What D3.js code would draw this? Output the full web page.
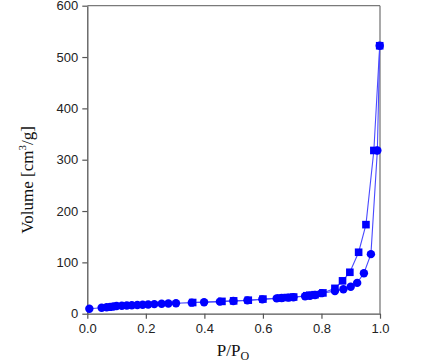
<!DOCTYPE html>
<html><head><meta charset="utf-8">
<script src="https://cdn.jsdelivr.net/npm/d3@7/dist/d3.min.js"></script>
<style>html,body{margin:0;padding:0;background:#fff;}svg{display:block;}</style>
</head><body>
<script>
// Adsorption branch (circles)
const adsX = [0.007,0.049,0.066,0.078,0.089,0.100,0.118,0.135,0.152,0.171,0.189,0.208,0.229,0.254,0.277,0.303,0.357,0.399,0.453,0.499,0.547,0.598,0.647,0.664,0.687,0.704,0.744,0.761,0.778,0.800,0.846,0.875,0.900,0.922,0.945,0.969,0.991,0.999];
const adsY = [9.5,11.7,12.5,13.2,14.0,15.0,15.5,16.0,16.5,17.0,17.5,18.0,18.7,19.3,19.8,20.5,21.5,22.3,23.5,24.8,26.0,28.0,29.8,30.5,31.3,32.0,34.0,35.0,36.5,40.0,44.0,47.5,52.6,60.0,78.7,116.0,318.0,522.0];
// Desorption branch (squares)
const desX = [0.999,0.979,0.952,0.927,0.897,0.872,0.846,0.805,0.778,0.760,0.750,0.705,0.683,0.660,0.600,0.550,0.500,0.460,0.360];
const desY = [522.0,318.0,173.5,119.7,80.7,64.0,49.4,40.5,37.0,36.0,35.0,32.5,31.5,30.5,28.5,26.3,25.0,24.0,21.8];
const xTicks = [0,0.2,0.4,0.6,0.8,1.0];
const yTicks = [0,100,200,300,400,500,600];

const W = 430, H = 364;
const m = {left:87.3, right:380, top:5.7, bottom:313.7};
const svg = d3.select("body").append("svg").attr("width",W).attr("height",H);
const x = d3.scaleLinear().domain([0,1]).range([m.left,m.right]);
const y = d3.scaleLinear().domain([0,600]).range([m.bottom,m.top]);

// frame top/right
svg.append("line").attr("x1",x(0)).attr("x2",x(1)).attr("y1",y(600)).attr("y2",y(600)).attr("stroke","#7a7a7a").attr("stroke-width",1.3);
svg.append("line").attr("x1",x(1)).attr("x2",x(1)).attr("y1",y(600)).attr("y2",y(0)).attr("stroke","#7a7a7a").attr("stroke-width",1.3);

const fmtX = d3.format(".1f");
const gx = svg.append("g").attr("transform",`translate(0,${m.bottom})`)
  .call(d3.axisBottom(x).tickValues(xTicks).tickFormat(fmtX).tickSize(5).tickSizeOuter(0).tickPadding(5));
const gy = svg.append("g").attr("transform",`translate(${m.left},0)`)
  .call(d3.axisLeft(y).tickValues(yTicks).tickSize(5).tickSizeOuter(0).tickPadding(4));
[gx,gy].forEach(g=>{
  g.select(".domain").attr("stroke","#555").attr("stroke-width",1.3);
  g.selectAll(".tick line").attr("stroke","#555").attr("stroke-width",1.2);
  g.selectAll(".tick text").attr("fill","#222").style("font-family","'Liberation Sans', Arial, sans-serif").style("font-size","13px");
});

const line = d3.line().x(d=>x(d[0])).y(d=>y(d[1]));
const ads = adsX.map((v,i)=>[v,adsY[i]]);
const des = desX.map((v,i)=>[v,desY[i]]);
const blueLine = "#4a4aff", blue = "#0000ff";
svg.append("path").datum(des).attr("d",line).attr("fill","none").attr("stroke",blueLine).attr("stroke-width",1.1);
svg.append("path").datum(ads).attr("d",line).attr("fill","none").attr("stroke",blueLine).attr("stroke-width",1.1);
svg.append("g").selectAll("rect").data(des).join("rect")
  .attr("x",d=>x(d[0])-3.8).attr("y",d=>y(d[1])-3.8).attr("width",7.6).attr("height",7.6).attr("fill",blue);
svg.append("g").selectAll("circle").data(ads).join("circle")
  .attr("cx",d=>x(d[0])).attr("cy",d=>y(d[1])).attr("r",4.2).attr("fill",blue);

// axis titles
const yt = svg.append("text").attr("transform",`translate(33,180) rotate(-90)`).attr("text-anchor","middle")
  .style("font-family","'Liberation Serif','Times New Roman',serif").style("font-size","17px").attr("fill","#111");
yt.append("tspan").text("Volume [cm");
yt.append("tspan").text("3").attr("dy",-7).style("font-size","11px");
yt.append("tspan").text("/g]").attr("dy",7);

const xt = svg.append("text").attr("x",233).attr("y",356).attr("text-anchor","middle")
  .style("font-family","'Liberation Serif','Times New Roman',serif").style("font-size","17px").attr("fill","#111");
xt.append("tspan").text("P/P");
xt.append("tspan").text("O").attr("dy",4).style("font-size","12px");
</script>
</body></html>
